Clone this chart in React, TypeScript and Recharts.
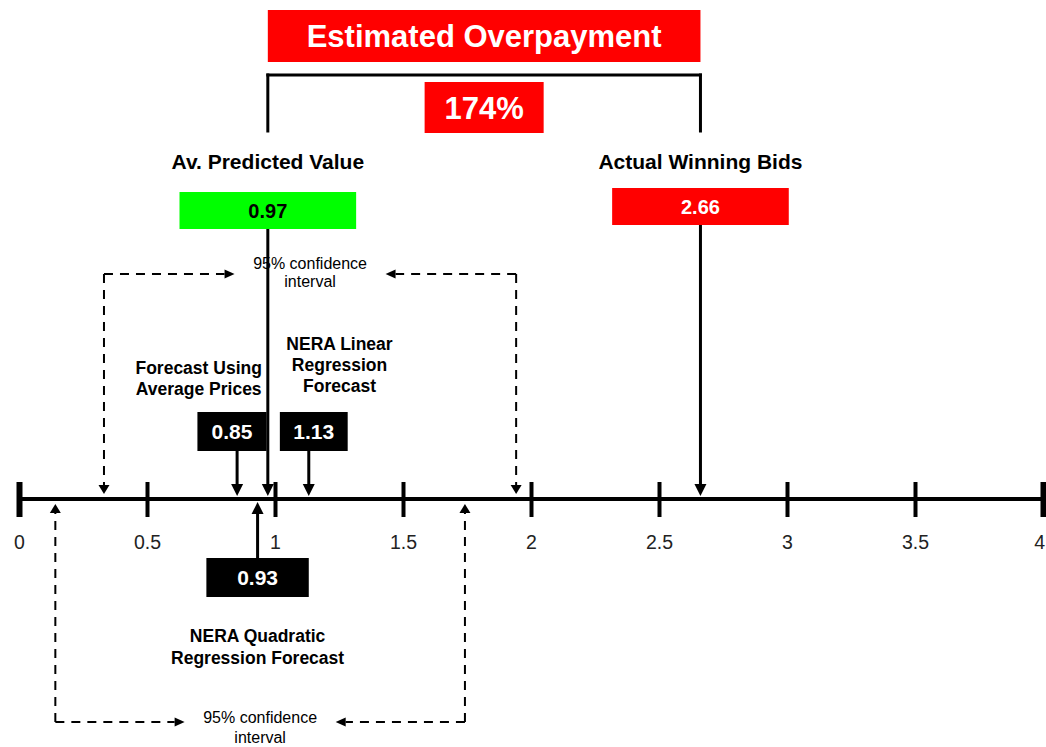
import React from "react";
import {
  ComposedChart,
  XAxis,
  YAxis,
  ReferenceLine,
  ReferenceArea,
  ReferenceDot,
} from "recharts";

// value scale
const AXIS_TICKS = [0, 0.5, 1, 1.5, 2, 2.5, 3, 3.5, 4];

// headline numbers
const PREDICTED_VALUE = 0.97;
const WINNING_BIDS = 2.66;
const OVERPAYMENT_LABEL = "174%";

// individual forecasts
const FORECAST_NAMES = [
  ["Forecast Using", "Average Prices"],
  ["NERA Linear", "Regression", "Forecast"],
  ["NERA Quadratic", "Regression  Forecast"],
];
const FORECAST_VALUES = [0.85, 1.13, 0.93];

// 95% confidence intervals (linear above the axis, quadratic below)
const LINEAR_CI = [0.33, 1.94];
const QUADRATIC_CI = [0.14, 1.74];

const FONT = "Arial, 'Liberation Sans', sans-serif";

// vertical layout, in pixel rows of the plot (y axis is reversed)
const AXIS_ROW = 499;
const ROW = {
  titleTop: 10,
  titleBottom: 62,
  bracketTop: 75,
  bracketBottom: 131,
  pctTop: 82,
  pctBottom: 133,
  headLabel: 161,
  greenTop: 192,
  greenBottom: 229,
  redTop: 188,
  redBottom: 225,
  ciTopText: 263,
  ciTopLine: 274,
  linearLabel: 344,
  averageLabel: 368,
  smallBoxTop: 412,
  smallBoxBottom: 451,
  tipAbove: 496,
  tipBelow: 502,
  ciTipAbove: 494,
  ciTipBelow: 504,
  quadBoxTop: 558,
  quadBoxBottom: 597,
  quadLabel: 636,
  ciBottomText: 717,
  ciBottomLine: 722,
};

// box extents in axis units, relative to the value they point at
const AVG_BOX = [-0.155, 0.115];
const LINEAR_BOX = [-0.113, 0.152];
const QUAD_BOX_W = 0.4;
const HEAD_BOX_W = 0.69;
const PCT_BOX_W = 0.465;
const CI_GAP = 0.295;

function arrowShape(head: number, halfW: number, width: number, dashed = false) {
  return (p: any) => {
    const { x1, y1, x2, y2 } = p;
    const dx = x2 - x1;
    const dy = y2 - y1;
    const len = Math.hypot(dx, dy) || 1;
    const ux = dx / len;
    const uy = dy / len;
    const bx = x2 - ux * head;
    const by = y2 - uy * head;
    const pts = `${x2},${y2} ${bx - uy * halfW},${by + ux * halfW} ${bx + uy * halfW},${by - ux * halfW}`;
    return (
      <g>
        <line
          x1={x1}
          y1={y1}
          x2={bx}
          y2={by}
          stroke="#000"
          strokeWidth={width}
          strokeDasharray={dashed ? "9 7" : undefined}
        />
        <polygon points={pts} fill="#000" />
      </g>
    );
  };
}

const solidArrow = arrowShape(12, 6, 3);
const dashedArrowV = arrowShape(9, 5.5, 2, true);
const dashedArrowH = arrowShape(10, 4.5, 2, true);

const plainLine = (p: any) => (
  <line x1={p.x1} y1={p.y1} x2={p.x2} y2={p.y2} stroke="#000" strokeWidth={3} strokeLinecap="square" />
);

function textBlock(lines: string[], size: number, bold: boolean, gap: number) {
  return (p: any) => (
    <text
      x={p.cx}
      y={p.cy}
      textAnchor="middle"
      dominantBaseline="central"
      fontSize={size}
      fontWeight={bold ? 700 : 400}
      fontFamily={FONT}
      fill="#000"
    >
      {lines.map((l, i) => (
        <tspan key={i} x={p.cx} dy={i === 0 ? 0 : gap}>
          {l}
        </tspan>
      ))}
    </text>
  );
}

function boxLabel(value: string, color: string, size: number) {
  return {
    value,
    position: "center" as const,
    fill: color,
    fontSize: size,
    fontWeight: 700,
    fontFamily: FONT,
  };
}

function AxisTick(props: any) {
  const { x, y, payload } = props;
  const last = payload.value === AXIS_TICKS[AXIS_TICKS.length - 1];
  const edge = payload.value === AXIS_TICKS[0] || last;
  return (
    <g>
      <line x1={x} x2={x} y1={y - 17} y2={y + 18} stroke="#000" strokeWidth={edge ? 6 : 4} />
      <text
        x={last ? x + 1.5 : x}
        y={y + 43}
        textAnchor={last ? "end" : "middle"}
        dominantBaseline="central"
        fontSize={19.5}
        fontFamily={FONT}
        fill="#222"
      >
        {payload.value}
      </text>
    </g>
  );
}

function ConfidenceBracket({ ci, row, tip, textRow, textGap }: { ci: number[]; row: number; tip: number; textRow: number; textGap: number }) {
  const mid = (ci[0] + ci[1]) / 2;
  return (
    <>
      <ReferenceDot
        x={mid}
        y={textRow}
        r={0}
        ifOverflow="visible"
        shape={textBlock(["95% confidence", "interval"], 16, false, textGap)}
      />
      <ReferenceLine
        segment={[{ x: ci[0], y: row }, { x: mid - CI_GAP, y: row }]}
        ifOverflow="visible"
        shape={dashedArrowH}
      />
      <ReferenceLine
        segment={[{ x: ci[1], y: row }, { x: mid + CI_GAP, y: row }]}
        ifOverflow="visible"
        shape={dashedArrowH}
      />
      <ReferenceLine
        segment={[{ x: ci[0], y: row }, { x: ci[0], y: tip }]}
        ifOverflow="visible"
        shape={dashedArrowV}
      />
      <ReferenceLine
        segment={[{ x: ci[1], y: row }, { x: ci[1], y: tip }]}
        ifOverflow="visible"
        shape={dashedArrowV}
      />
    </>
  );
}

export default function App() {
  const [avg, linear, quad] = FORECAST_VALUES;
  const pctMid = (PREDICTED_VALUE + WINNING_BIDS) / 2;
  const smallBoxes = [
    { v: avg, span: AVG_BOX },
    { v: linear, span: LINEAR_BOX },
  ];

  return (
    <div style={{ width: 1046, height: 747 }}>
      <style>{"body{margin:0}"}</style>
      <ComposedChart
        width={1046}
        height={747}
        margin={{ top: 0, right: 2.5, bottom: 0, left: 19.5 }}
        data={[]}
      >
        <XAxis
          type="number"
          dataKey="x"
          domain={[0, 4]}
          ticks={AXIS_TICKS}
          interval={0}
          height={248}
          allowDataOverflow
          axisLine={{ stroke: "#000", strokeWidth: 4 }}
          tickLine={false}
          tickSize={0}
          tickMargin={0}
          tick={<AxisTick />}
        />
        <YAxis type="number" domain={[0, AXIS_ROW]} reversed hide allowDataOverflow />

        {/* overpayment banner and bracket */}
        <ReferenceArea
          x1={PREDICTED_VALUE}
          x2={WINNING_BIDS}
          y1={ROW.titleTop}
          y2={ROW.titleBottom}
          fill="#ff0000"
          fillOpacity={1}
          ifOverflow="visible"
          label={boxLabel("Estimated Overpayment", "#fff", 31)}
        />
        <ReferenceLine
          segment={[{ x: PREDICTED_VALUE, y: ROW.bracketTop }, { x: WINNING_BIDS, y: ROW.bracketTop }]}
          ifOverflow="visible"
          shape={plainLine}
        />
        <ReferenceLine
          segment={[{ x: PREDICTED_VALUE, y: ROW.bracketTop }, { x: PREDICTED_VALUE, y: ROW.bracketBottom }]}
          ifOverflow="visible"
          shape={plainLine}
        />
        <ReferenceLine
          segment={[{ x: WINNING_BIDS, y: ROW.bracketTop }, { x: WINNING_BIDS, y: ROW.bracketBottom }]}
          ifOverflow="visible"
          shape={plainLine}
        />
        <ReferenceArea
          x1={pctMid - PCT_BOX_W / 2}
          x2={pctMid + PCT_BOX_W / 2}
          y1={ROW.pctTop}
          y2={ROW.pctBottom}
          fill="#ff0000"
          fillOpacity={1}
          ifOverflow="visible"
          label={boxLabel(OVERPAYMENT_LABEL, "#fff", 31)}
        />

        {/* headline values */}
        <ReferenceDot
          x={PREDICTED_VALUE}
          y={ROW.headLabel}
          r={0}
          ifOverflow="visible"
          shape={textBlock(["Av. Predicted Value"], 21, true, 0)}
        />
        <ReferenceDot
          x={WINNING_BIDS}
          y={ROW.headLabel}
          r={0}
          ifOverflow="visible"
          shape={textBlock(["Actual Winning Bids"], 21, true, 0)}
        />

        <ConfidenceBracket ci={LINEAR_CI} row={ROW.ciTopLine} tip={ROW.ciTipAbove} textRow={ROW.ciTopText} textGap={18} />
        <ConfidenceBracket ci={QUADRATIC_CI} row={ROW.ciBottomLine} tip={ROW.ciTipBelow} textRow={ROW.ciBottomText} textGap={20} />

        <ReferenceArea
          x1={PREDICTED_VALUE - HEAD_BOX_W / 2}
          x2={PREDICTED_VALUE + HEAD_BOX_W / 2}
          y1={ROW.greenTop}
          y2={ROW.greenBottom}
          fill="#00ff00"
          fillOpacity={1}
          ifOverflow="visible"
          label={boxLabel(String(PREDICTED_VALUE), "#000", 20)}
        />
        <ReferenceArea
          x1={WINNING_BIDS - HEAD_BOX_W / 2}
          x2={WINNING_BIDS + HEAD_BOX_W / 2}
          y1={ROW.redTop}
          y2={ROW.redBottom}
          fill="#ff0000"
          fillOpacity={1}
          ifOverflow="visible"
          label={boxLabel(String(WINNING_BIDS), "#fff", 20)}
        />
        <ReferenceLine
          segment={[{ x: PREDICTED_VALUE, y: ROW.greenBottom }, { x: PREDICTED_VALUE, y: ROW.tipAbove }]}
          ifOverflow="visible"
          shape={solidArrow}
        />
        <ReferenceLine
          segment={[{ x: WINNING_BIDS, y: ROW.redBottom }, { x: WINNING_BIDS, y: ROW.tipAbove }]}
          ifOverflow="visible"
          shape={solidArrow}
        />

        {/* forecast labels */}
        <ReferenceDot
          x={avg - 0.15}
          y={ROW.averageLabel}
          r={0}
          ifOverflow="visible"
          shape={textBlock(FORECAST_NAMES[0], 17.5, true, 21)}
        />
        <ReferenceDot
          x={linear + 0.12}
          y={ROW.linearLabel}
          r={0}
          ifOverflow="visible"
          shape={textBlock(FORECAST_NAMES[1], 17.5, true, 21)}
        />
        <ReferenceDot
          x={quad}
          y={ROW.quadLabel}
          r={0}
          ifOverflow="visible"
          shape={textBlock(FORECAST_NAMES[2], 17.5, true, 22)}
        />

        {/* forecast boxes and arrows */}
        {smallBoxes.map(({ v, span }) => (
          <ReferenceArea
            key={`box-${v}`}
            x1={v + span[0]}
            x2={v + span[1]}
            y1={ROW.smallBoxTop}
            y2={ROW.smallBoxBottom}
            fill="#000"
            fillOpacity={1}
            ifOverflow="visible"
            label={boxLabel(String(v), "#fff", 21)}
          />
        ))}
        {smallBoxes.map(({ v }) => (
          <ReferenceLine
            key={`arrow-${v}`}
            segment={[{ x: v, y: ROW.smallBoxBottom }, { x: v, y: ROW.tipAbove }]}
            ifOverflow="visible"
            shape={solidArrow}
          />
        ))}
        <ReferenceArea
          x1={quad - QUAD_BOX_W / 2}
          x2={quad + QUAD_BOX_W / 2}
          y1={ROW.quadBoxTop}
          y2={ROW.quadBoxBottom}
          fill="#000"
          fillOpacity={1}
          ifOverflow="visible"
          label={boxLabel(String(quad), "#fff", 21)}
        />
        <ReferenceLine
          segment={[{ x: quad, y: ROW.quadBoxTop }, { x: quad, y: ROW.tipBelow }]}
          ifOverflow="visible"
          shape={solidArrow}
        />
      </ComposedChart>
    </div>
  );
}
